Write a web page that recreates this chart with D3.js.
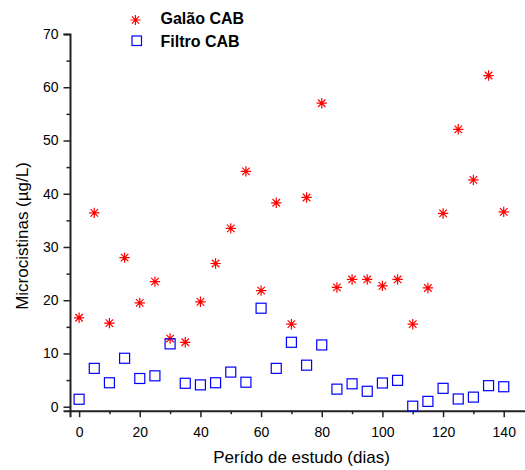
<!DOCTYPE html>
<html><head><meta charset="utf-8">
<script src="https://cdn.jsdelivr.net/npm/d3@7"></script>
<style>body{margin:0;background:#fff}svg{display:block}text{font-family:"Liberation Sans",Arial,sans-serif}</style>
</head><body><svg id="c" width="525" height="470"></svg>
<script>
const days = [0,5,10,15,20,25,30,35,40,45,50,55,60,65,70,75,80,85,90,95,100,105,110,115,120,125,130,135,140];
const galao = [16.7,36.4,15.7,28.0,19.5,23.5,12.8,12.1,19.7,26.9,33.5,44.2,21.8,38.3,15.5,39.3,57.0,22.4,23.9,23.9,22.7,23.9,15.5,22.3,36.3,52.1,42.6,62.2,36.6];
const filtro = [1.4,7.2,4.5,9.1,5.3,5.8,11.8,4.4,4.1,4.5,6.5,4.6,18.5,7.2,12.1,7.8,11.6,3.3,4.3,2.9,4.45,4.95,0.1,1.0,3.45,1.45,1.8,3.95,3.75];
const xTicks = [0,20,40,60,80,100,120,140];
const yTicks = [0,10,20,30,40,50,60,70];
const seriesNames = ["Galão CAB","Filtro CAB"];

const svg = d3.select("#c");
const x = d3.scaleLinear().domain([-3,148]).range([70,528]);
const y = d3.scaleLinear().domain([-0.75,70]).range([410.7,34]);

const xAxis = svg.append("g").attr("transform","translate(0,410.7)");
xAxis.call(d3.axisBottom(x).tickValues(d3.range(10,150,20)).tickSize(3.5).tickFormat(""));
xAxis.call(g=>g.selectAll(".domain").remove());
svg.append("g").attr("transform","translate(0,410.7)")
  .call(d3.axisBottom(x).tickValues(xTicks).tickSize(6.5).tickPadding(10).tickFormat(d3.format("d")));
const yAxisMin = svg.append("g").attr("transform","translate(70,0)")
  .call(d3.axisLeft(y).tickValues(d3.range(5,70,10)).tickSize(3.5).tickFormat(""));
yAxisMin.select(".domain").remove();
svg.append("g").attr("transform","translate(70,0)")
  .call(d3.axisLeft(y).tickValues(yTicks).tickSize(6.5).tickPadding(5).tickFormat(d3.format("d")));
svg.selectAll(".tick text").attr("font-size",14).attr("fill","#000").attr("font-family","Liberation Sans, Arial, sans-serif");
svg.selectAll(".domain, .tick line").attr("stroke","#222").attr("stroke-width",1.5);
svg.selectAll(".domain").attr("stroke-width",2);

svg.append("text").attr("x",301.5).attr("y",463).attr("text-anchor","middle").attr("font-size",17).text("Perído de estudo (dias)");
svg.append("text").attr("transform","translate(27.5,236) rotate(-90)").attr("text-anchor","middle").attr("font-size",17).text("Microcistinas (µg/L)");

function starPath(cx,cy,r){
  const d = r*0.72;
  return `M${cx-r},${cy}L${cx+r},${cy}M${cx},${cy-r}L${cx},${cy+r}M${cx-d},${cy-d}L${cx+d},${cy+d}M${cx-d},${cy+d}L${cx+d},${cy-d}`;
}
svg.append("g").selectAll("path").data(days).join("path")
  .attr("d",(d,i)=>starPath(x(d),y(galao[i]),5.2))
  .attr("stroke","#ff0000").attr("stroke-width",1.2).attr("fill","none");
svg.append("g").selectAll("rect").data(days).join("rect")
  .attr("x",(d)=>x(d)-5).attr("y",(d,i)=>y(filtro[i])-5).attr("width",10).attr("height",10)
  .attr("fill","none").attr("stroke","#0000ff").attr("stroke-width",1.2);

// legend
svg.append("path").attr("d",starPath(135.5,20,5)).attr("stroke","#ff0000").attr("stroke-width",1.2).attr("fill","none");
svg.append("rect").attr("x",132).attr("y",36).attr("width",9.5).attr("height",9.5).attr("fill","none").attr("stroke","#0000ff").attr("stroke-width",1.2);
svg.append("text").attr("x",160.5).attr("y",24).attr("font-size",16).attr("font-weight","bold").text(seriesNames[0]);
svg.append("text").attr("x",160.5).attr("y",46.5).attr("font-size",16).attr("font-weight","bold").text(seriesNames[1]);
</script></body></html>
